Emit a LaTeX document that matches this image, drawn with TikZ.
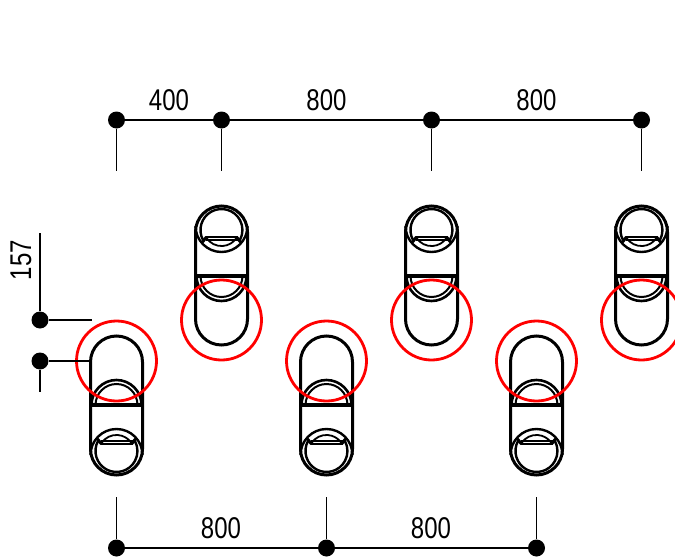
\documentclass[tikz,border=0pt]{standalone}
\usepackage{fontspec}
\newfontfamily\dimfont[FakeStretch=0.8]{Liberation Sans}
\tikzset{
	dot/.style={circle,fill=black,inner sep=0pt,minimum size=17pt},
	dimline/.style={line width=1.2pt},
	dimtext/.style={font=\dimfont\fontsize{30}{30}\selectfont,inner sep=0pt},
	outline/.style={line width=3pt},
	fixing/.pic={
		\draw[outline] (-26,1) arc[start angle=180,end angle=360,radius=26] -- (26,88) arc[start angle=0,end angle=180,radius=26] -- cycle;
		\draw[line width=4.5pt] (-26,44) -- (26,44);
		\draw[line width=2.6pt] (-25,44) arc[start angle=180,end angle=360,radius=25];
		\draw[line width=2pt] (-21,44) arc[start angle=180,end angle=360,radius=21];
		\draw[line width=2.4pt] (-18.5,80) arc[start angle=208.4,end angle=-28.4,radius=21];
		\draw[line width=2.4pt] (-26,94) arc[start angle=180,end angle=360,radius=26];
		\draw[line width=1.8pt] (-16,80) -- (16,80);
		\draw[line width=1.8pt] (-16,83) -- (16,83);
		\draw[line width=1.8pt] (-15,82) arc[start angle=213.6,end angle=326.4,radius=18];
		\draw[line width=3pt] (-19,78) -- (-15,83);
		\draw[line width=3pt] (19,78) -- (15,83);
		\draw[red,line width=2.8pt] (0,0) circle (40);
	}
}
\begin{document}
\begin{tikzpicture}[x=1pt,y=-1pt,node distance=105pt]
	\useasboundingbox (0,0) rectangle (675,557);

	\pic at (116.5,361) {fixing};
	\pic at (326.5,361) {fixing};
	\pic at (536.5,361) {fixing};
	\pic[yscale=-1] at (221.5,320) {fixing};
	\pic[yscale=-1] at (431.5,320) {fixing};
	\pic[yscale=-1] at (641.5,320) {fixing};

	\node(t1) [dot] at (116.5,120) {};
	\node(t2) [dot,right of=t1] {};
	\node(t3) [dot,right of=t2,node distance=210pt] {};
	\node(t4) [dot,right of=t3,node distance=210pt] {};
	\coordinate(te1) at (116.5,171);
	\coordinate(te2) at (221.5,171);
	\coordinate(te3) at (431.5,171);
	\coordinate(te4) at (641.5,171);

	\node(b1) [dot] at (116.5,548) {};
	\node(b2) [dot,right of=b1,node distance=210pt] {};
	\node(b3) [dot,right of=b2,node distance=210pt] {};
	\coordinate(be1) at (116.5,497);
	\coordinate(be2) at (326.5,497);
	\coordinate(be3) at (536.5,497);

	\node(s1) [dot] at (40,320) {};
	\node(s2) [dot] at (40,361) {};
	\coordinate(se1) at (40,233);
	\coordinate(se2) at (40,392);
	\coordinate(sh1) at (92,320);
	\coordinate(sh2) at (90,361);

	\draw[dimline] (t1) -- (t2);
	\draw[dimline] (t2) -- (t3);
	\draw[dimline] (t3) -- (t4);
	\draw[dimline] (t1) -- (te1);
	\draw[dimline] (t2) -- (te2);
	\draw[dimline] (t3) -- (te3);
	\draw[dimline] (t4) -- (te4);

	\draw[dimline] (b1) -- (b2);
	\draw[dimline] (b2) -- (b3);
	\draw[dimline] (b1) -- (be1);
	\draw[dimline] (b2) -- (be2);
	\draw[dimline] (b3) -- (be3);

	\draw[dimline] (s1) -- (se1);
	\draw[dimline] (s2) -- (se2);
	\draw[dimline] (s1) -- (sh1);
	\draw[dimline] (s2) -- (sh2);

	\node(l1) [dimtext] at (169,100) {400};
	\node(l2) [dimtext] at (326.5,100) {800};
	\node(l3) [dimtext] at (536.5,100) {800};
	\node(l4) [dimtext] at (221,528) {800};
	\node(l5) [dimtext] at (431,528) {800};
	\node(l6) [dimtext,rotate=90] at (21,260) {157};
\end{tikzpicture}
\end{document}
